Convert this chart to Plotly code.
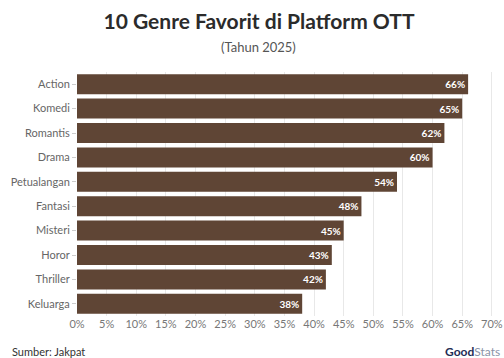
import plotly.graph_objects as go

genres = ["Action", "Komedi", "Romantis", "Drama", "Petualangan", "Fantasi", "Misteri", "Horor", "Thriller", "Keluarga"]
values = [66, 65, 62, 60, 54, 48, 45, 43, 42, 38]
tick_vals = list(range(0, 75, 5))
tick_text = [f"{v}%" for v in tick_vals]

W, H = 504, 358
ML, MR, MT, MB = 77, 11, 72, 42
pw, ph = W - ML - MR, H - MT - MB

def px(x):
    return (x - ML) / pw

def py(y):
    return (H - MB - y) / ph

fig = go.Figure(go.Bar(
    y=genres, x=values, orientation="h",
    marker=dict(color="#5f4535", line=dict(width=0)),
    text=[f"{v}%" for v in values], textposition="inside", insidetextanchor="end",
    textfont=dict(family="Lato", size=10, color="white", weight="bold"),
    cliponaxis=False,
))

fig.update_layout(
    width=W, height=H,
    margin=dict(l=ML, r=MR, t=MT, b=MB, autoexpand=False),
    paper_bgcolor="white", plot_bgcolor="white",
    bargap=0.18,
    showlegend=False,
    font=dict(family="Lato", color="#555"),
    title=dict(text="<b>10 Genre Favorit di Platform OTT</b>", x=259 / W, xanchor="center",
               y=1 - 22 / H, yanchor="middle", font=dict(family="Lato", size=21, color="#2b2b2b")),
    xaxis=dict(range=[0, 70.2], tickvals=tick_vals, ticktext=tick_text, showgrid=True,
               gridcolor="#e8e8e8", gridwidth=1, zeroline=False, showline=False,
               ticklabeloverflow="allow", automargin=False,
               tickfont=dict(family="Lato", size=11, color="#777"), ticks="", fixedrange=True),
    yaxis=dict(categoryorder="array", categoryarray=genres[::-1], showgrid=False,
               ticks="outside", ticklen=4, tickcolor="#cccccc", automargin=False,
               tickfont=dict(family="Lato", size=11, color="#666"), showline=False),
    annotations=[
        dict(text="(Tahun 2025)", x=px(258), xref="paper", xanchor="center", y=py(47), yref="paper",
             yanchor="middle", showarrow=False, font=dict(family="Lato", size=13, color="#555")),
        dict(text="Sumber: Jakpat", x=px(10), y=py(351), xref="paper", yref="paper", showarrow=False,
             xanchor="left", yanchor="middle", font=dict(family="Lato", size=11, color="#333")),
        dict(text="<b>Good</b><span style='color:#8a93a8'>Stats</span>", x=px(502), y=py(351),
             xref="paper", yref="paper", showarrow=False, xanchor="right", yanchor="middle",
             font=dict(family="Lato", size=12, color="#1f2d55")),
    ],
)

fig.write_html("out.html")
